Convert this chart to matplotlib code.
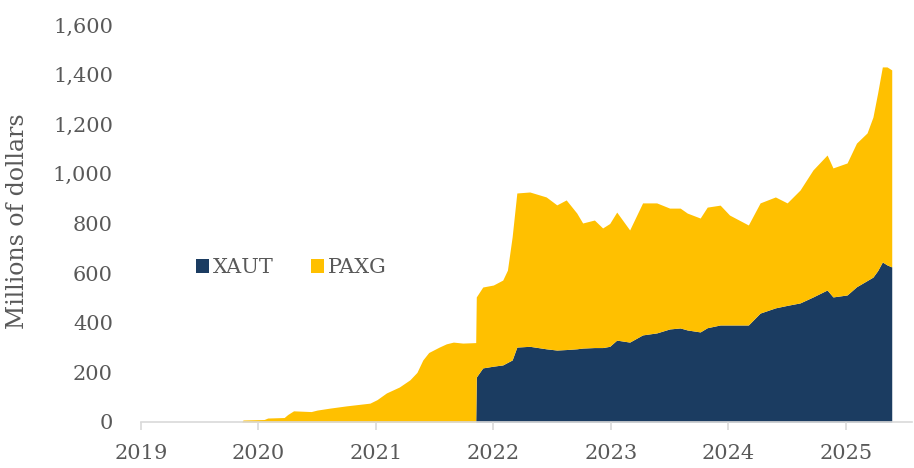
import matplotlib
matplotlib.use("Agg")
import matplotlib.pyplot as plt
from matplotlib.patches import Patch
import numpy as np

# Decimal-year dates
dates = [2019.86, 2019.87, 2020.05, 2020.08, 2020.22, 2020.25, 2020.30, 2020.45, 2020.50,
         2020.61, 2020.75, 2020.95, 2021.01, 2021.09, 2021.20, 2021.29, 2021.35, 2021.40,
         2021.45, 2021.54, 2021.60, 2021.66, 2021.74, 2021.85, 2021.855, 2021.91, 2022.00,
         2022.08, 2022.12, 2022.16, 2022.20, 2022.31, 2022.45, 2022.54, 2022.62, 2022.71,
         2022.76, 2022.86, 2022.93, 2022.99, 2023.05, 2023.16, 2023.27, 2023.39, 2023.50,
         2023.59, 2023.65, 2023.76, 2023.82, 2023.93, 2024.01, 2024.17, 2024.27, 2024.40,
         2024.50, 2024.61, 2024.72, 2024.84, 2024.89, 2025.01, 2025.09, 2025.18, 2025.23,
         2025.27, 2025.31, 2025.35, 2025.39]

# Millions of dollars
xaut = [0, 0, 0, 0, 0, 0, 0, 0, 0,
        0, 0, 0, 0, 0, 0, 0, 0, 0,
        0, 0, 0, 0, 0, 0, 181, 218, 225,
        230, 240, 250, 302, 305, 295, 290, 292, 295,
        298, 300, 300, 305, 330, 322, 351, 359, 375,
        379, 371, 363, 380, 391, 391, 391, 439, 460,
        470, 480, 504, 532, 504, 512, 545, 570, 584,
        610, 645, 633, 625]

paxg = [0, 8, 10, 16, 18, 30, 45, 42, 48,
        56, 65, 76, 90, 117, 141, 170, 200, 250,
        280, 302, 315, 322, 318, 320, 323, 326, 327,
        342, 372, 496, 621, 622, 612, 585, 603, 547,
        504, 514, 482, 495, 516, 452, 532, 524, 487,
        483, 471, 459, 486, 483, 443, 403, 444, 447,
        413, 455, 512, 544, 520, 532, 579, 595, 645,
        716, 786, 798, 794]

years = [2019, 2020, 2021, 2022, 2023, 2024, 2025]
yticks = [0, 200, 400, 600, 800, 1000, 1200, 1400, 1600]

navy = "#1B3C61"
gold = "#FFC000"
txt = "#595959"

plt.rcParams["font.family"] = ["DejaVu Serif"]

fig = plt.figure(figsize=(9.14, 4.68), dpi=100)
ax = fig.add_axes([0.154, 0.0983, 0.8435, 0.8483])

d = np.array(dates)
x1 = np.array(xaut)
p1 = np.array(paxg)
ax.fill_between(d, 0, x1, color=navy, linewidth=0)
ax.fill_between(d, x1, x1 + p1, color=gold, linewidth=0)

ax.set_xlim(2019, 2025.56)
ax.set_ylim(0, 1600)
ax.set_xticks(years)
ax.set_xticklabels([str(y) for y in years])
ax.set_yticks(yticks)
ax.set_yticklabels([f"{v:,}" for v in yticks])

for s in ["top", "right", "left"]:
    ax.spines[s].set_visible(False)
ax.spines["bottom"].set_color("#D9D9D9")
ax.spines["bottom"].set_linewidth(1.2)

ax.tick_params(axis="x", length=6, color="#D9D9D9", width=1.2, labelsize=15,
               labelcolor=txt, pad=10)
ax.tick_params(axis="y", length=0, labelsize=15, labelcolor=txt, pad=20)

ax.set_ylabel("Millions of dollars", fontsize=17, color=txt, labelpad=8)
ax.yaxis.set_label_coords(-0.145, 0.505)

handles = [Patch(facecolor=navy, edgecolor="none", label="XAUT"),
           Patch(facecolor=gold, edgecolor="none", label="PAXG")]
ax.legend(handles=handles, loc="center left", bbox_to_anchor=(0.072, 0.388),
          ncol=2, frameon=False, fontsize=15, handlelength=0.6, handleheight=0.6,
          handletextpad=0.2, columnspacing=1.8, labelcolor=txt, borderpad=0,
          borderaxespad=0)

fig.savefig("out.png", dpi=100)
